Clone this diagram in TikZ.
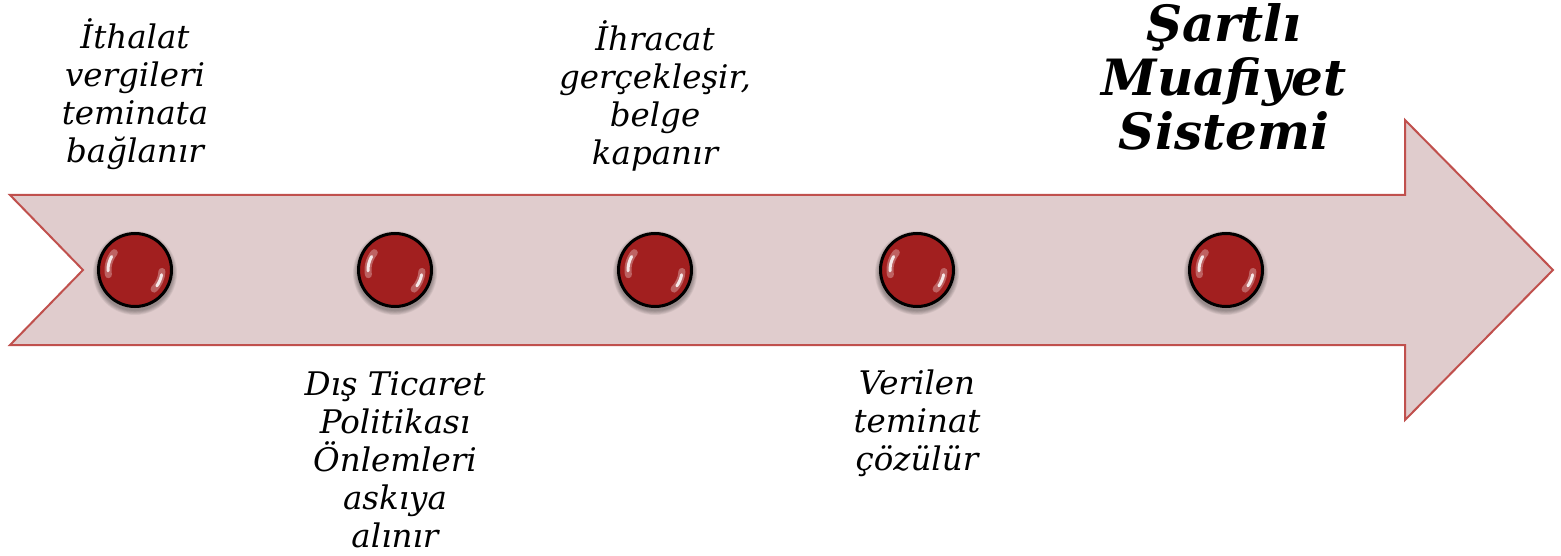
\documentclass[tikz,border=0pt]{standalone}
\usepackage{fontspec}
\setmainfont{DejaVu Serif}
\usetikzlibrary{calc}
\definecolor{arrowfill}{RGB}{224,204,205}
\definecolor{arrowline}{RGB}{192,80,77}
\definecolor{ballin}{RGB}{162,31,31}
\definecolor{ballout}{RGB}{196,66,66}
\pgfdeclareradialshading{ballshade}{\pgfpoint{0bp}{0bp}}{color(0bp)=(ballin); color(33bp)=(ballin); color(47bp)=(ballout); color(50bp)=(ballout)}
\tikzset{
  ball/.style={circle, minimum size=73pt, inner sep=0pt, draw=black, line width=3pt, shading=ballshade},
  lbl/.style={font=\fontsize{32.5}{38}\selectfont\itshape, align=center, anchor=base, inner sep=0pt},
  ttl/.style={font=\fontsize{50}{54}\selectfont\bfseries\itshape, align=center, anchor=base, inner sep=0pt},
  hl/.style={white, line cap=round},
}
\begin{document}
\begin{tikzpicture}[x=1pt,y=-1pt]
\useasboundingbox (0,0) rectangle (1561,556);
% big arrow
\draw[fill=arrowfill, draw=arrowline, line width=2pt, line join=miter]
  (10,195) -- (1405,195) -- (1405,120) -- (1553,270) -- (1405,420) -- (1405,345) -- (10,345) -- (83,270) -- cycle;
% balls
\foreach \i/\x in {1/135,2/395,3/655,4/917,5/1226}{
  \foreach \k in {0,...,5}{
    \fill[black, opacity=0.06] (\x,273) circle[radius={38pt+\k*0.8pt}];
  }
  \node[ball] (b\i) at (\x,270) {};
  \draw[hl, opacity=0.3, line width=7pt] ($(b\i.center)+(140:27pt)$) arc[start angle=140, end angle=190, radius=27pt];
  \draw[hl, opacity=0.85, line width=3pt] ($(b\i.center)+(150:27pt)$) arc[start angle=150, end angle=182, radius=27pt];
  \draw[hl, opacity=0.3, line width=7pt] ($(b\i.center)+(-3:27pt)$) arc[start angle=-3, end angle=-45, radius=27pt];
  \draw[hl, opacity=0.85, line width=3pt] ($(b\i.center)+(-10:27pt)$) arc[start angle=-10, end angle=-36, radius=27pt];
}
% labels (anchor = baseline of last line)
\node[lbl] (t1) at (135,163) {İthalat\\vergileri\\teminata\\bağlanır};
\node[lbl] (t2) at (395,547) {Dış Ticaret\\Politikası\\Önlemleri\\askıya\\alınır};
\node[lbl] (t3) at (655,165) {İhracat\\gerçekleşir,\\belge\\kapanır};
\node[lbl] (t4) at (917,470) {Verilen\\teminat\\çözülür};
\node[ttl] (t5) at (1224,150) {Şartlı\\Muafiyet\\Sistemi};
\end{tikzpicture}
\end{document}
